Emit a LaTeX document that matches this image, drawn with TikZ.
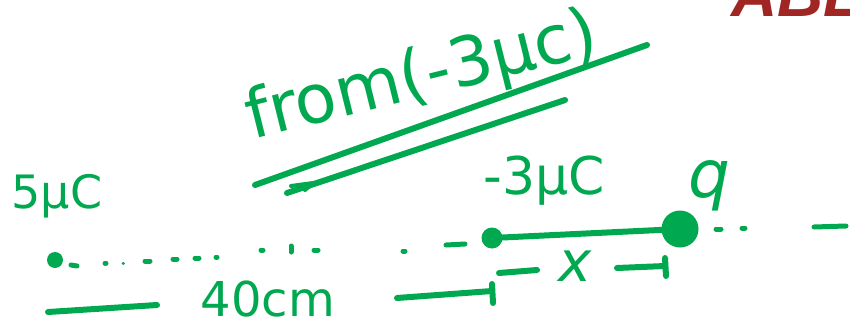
\documentclass[tikz,border=0pt]{standalone}
\usepackage{fontspec}
\setmainfont{DejaVu Sans}
\newfontfamily\ablfont{Liberation Sans}
\definecolor{ink}{RGB}{0,168,80}
\definecolor{abl}{RGB}{160,38,36}
\begin{document}
\begin{tikzpicture}[x=1pt,y=-1pt,
  pen/.style={draw=ink, line width=6pt, line cap=round, line join=round},
  speck/.style={draw=ink, line width=5pt, line cap=round},
  dotc/.style={circle, fill=ink, inner sep=0pt},
  hand/.style={text=ink, inner sep=0pt, font=\fontsize{46}{46}\selectfont}]
\useasboundingbox (0,0) rectangle (850,329);
\clip (0,0) rectangle (850,329);
\fill[white] (0,0) rectangle (850,329);
% red logo fragment
\node[text=abl, inner sep=0pt, anchor=base west, font=\ablfont\bfseries\itshape\fontsize{64}{64}\selectfont] (logo) at (731,17) {ABL};
% title
\node[hand, rotate=14, font=\fontsize{68}{68}\selectfont] (title) at (422,78) {from(-3μc)};
\coordinate (u1a) at (255,185); \coordinate (u1b) at (647,45);
\coordinate (u2a) at (287,193); \coordinate (u2b) at (565,100);
\draw[pen] (u1a) -- (u1b);
\draw[pen] (u2a) -- (u2b);
\coordinate (h1) at (291,186); \coordinate (h2) at (313,183); \coordinate (h3) at (305,190);
\draw[pen, line width=4pt] (h1) -- (h2) -- (h3);
% charges
\node[hand] (lA) at (57,196) {5μC};
\node[hand, font=\fontsize{52}{52}\selectfont] (lB) at (544,181) {-3μC};
\node[hand, font=\fontsize{66}{66}\selectfont\itshape] (lq) at (709,186) {q};
\node[dotc, minimum size=16pt] (A) at (55,260) {};
\node[dotc, minimum size=21pt] (B) at (492,238) {};
\node[dotc, minimum size=37pt] (Q) at (680,229) {};
\draw[pen] (B) -- (Q);
% dotted trail
\draw[speck] (71,265) -- (77,266);
\draw[speck] (105,263) -- (106,263);
\draw[speck, line width=3pt] (123,263) -- (123.5,263);
\draw[speck] (145,261) -- (150,261);
\draw[speck] (173,259) -- (177,259);
\draw[speck] (195,258) -- (199,258);
\draw[speck] (216,257) -- (217,257);
\draw[speck] (261,250) -- (263,250);
\draw[speck] (291,246) -- (291,252);
\draw[speck] (314,250) -- (318,250);
\draw[speck] (403,251) -- (405,251);
\draw[speck] (446,245) -- (465,244);
\draw[speck] (716,229) -- (721,229);
\draw[speck] (742,228) -- (745,228);
\draw[speck] (814,227) -- (846,226);
% distance 40cm
\coordinate (d1a) at (48,312); \coordinate (d1b) at (157,305);
\coordinate (d2a) at (397,298); \coordinate (d2b) at (492,291);
\coordinate (t2a) at (492,284); \coordinate (t2b) at (493,303);
\draw[pen] (d1a) -- (d1b);
\node[hand, font=\fontsize{48}{48}\selectfont] (dist) at (268,299) {40cm};
\draw[pen] (d2a) -- (d2b);
\draw[pen] (t2a) -- (t2b);
% distance x
\coordinate (x1a) at (499,273); \coordinate (x1b) at (537,270);
\coordinate (x2a) at (617,268); \coordinate (x2b) at (665,266);
\coordinate (t3a) at (665,258); \coordinate (t3b) at (666,276);
\draw[pen] (x1a) -- (x1b);
\node[hand, font=\fontsize{56}{56}\selectfont\itshape] (xl) at (575,266) {x};
\draw[pen] (x2a) -- (x2b);
\draw[pen] (t3a) -- (t3b);
\end{tikzpicture}
\end{document}
